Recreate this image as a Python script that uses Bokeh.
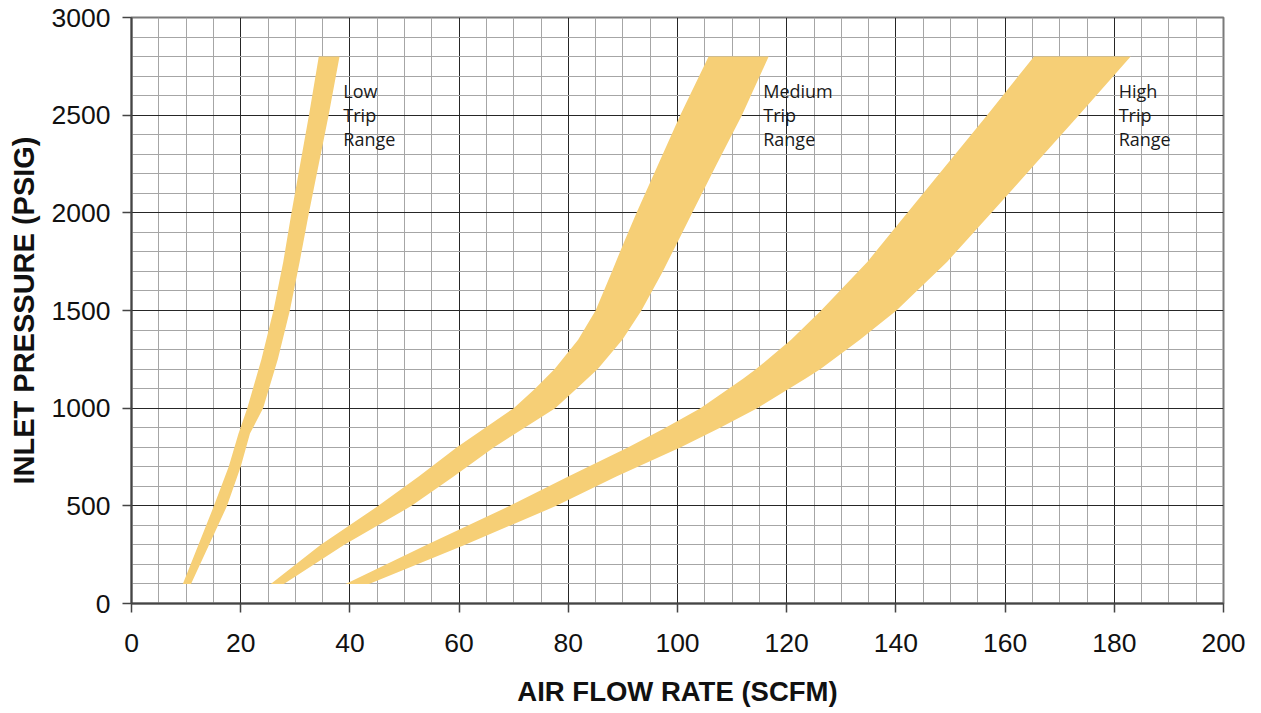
from bokeh.plotting import figure
from bokeh.models import SingleIntervalTicker, Range1d
from bokeh.embed import file_html
from bokeh.resources import INLINE
from bokeh.core.properties import value

# ---- data ----
low_y = [100, 500, 700, 870, 1000, 1250, 1500, 1750, 2000, 2500, 2800]
low_left = [9.4, 15.1, 17.8, 19.6, 21.2, 23.8, 26.0, 27.8, 29.3, 32.5, 34.3]
low_right = [10.9, 17.5, 20.0, 21.7, 24.1, 26.8, 29.0, 30.8, 32.5, 36.1, 38.1]

med_y = [100, 300, 500, 650, 800, 1000, 1100, 1200, 1350, 1500, 1700, 1850, 2000, 2250, 2500, 2800]
med_left = [25.5, 34.6, 45.2, 52.6, 59.6, 70.0, 73.9, 77.5, 81.8, 85.0, 88.0, 90.2, 92.5, 96.5, 100.5, 105.7]
med_right = [27.9, 38.9, 51.3, 59.0, 66.4, 77.6, 81.5, 85.4, 89.9, 93.4, 97.3, 100.0, 102.7, 107.2, 111.8, 116.7]

high_y = [100, 300, 500, 650, 800, 900, 1000, 1150, 1200, 1350, 1500, 1750, 2000, 2250, 2500, 2800]
high_left = [39.2, 54.0, 69.3, 80.0, 91.0, 97.8, 104.2, 112.0, 114.4, 120.8, 126.3, 134.8, 142.1, 149.4, 156.7, 165.3]
high_right = [43.5, 61.0, 77.8, 88.8, 100.6, 107.8, 114.6, 123.4, 126.2, 133.4, 140.1, 149.4, 157.5, 165.5, 173.5, 183.0]

band_labels = ["Low\nTrip\nRange", "Medium\nTrip\nRange", "High\nTrip\nRange"]
label_x = [38.8, 115.7, 180.8]
label_y = [2500, 2500, 2500]

x_title = "AIR FLOW RATE (SCFM)"
y_title = "INLET PRESSURE (PSIG)"

BAND = "#F6CF76"

p = figure(width=1253, height=710, output_backend="svg", toolbar_location=None,
           x_range=Range1d(0, 200), y_range=Range1d(0, 3000),
           min_border_left=131, min_border_right=30, min_border_top=17, min_border_bottom=107)

for ys, xl, xr in [(low_y, low_left, low_right), (med_y, med_left, med_right), (high_y, high_left, high_right)]:
    p.harea(y=ys, x1=xl, x2=xr, fill_color=BAND, fill_alpha=1.0)

p.text(x=label_x, y=label_y, text=band_labels, text_font=value("Open Sans"),
       text_font_size="18px", text_color="#1a1a1a", text_baseline="middle",
       text_align="left", text_line_height=1.0)

xt = SingleIntervalTicker(interval=20, num_minor_ticks=4)
yt = SingleIntervalTicker(interval=500, num_minor_ticks=5)
p.xaxis.ticker = xt
p.yaxis.ticker = yt
p.xgrid.ticker = xt
p.ygrid.ticker = yt

for g in (p.xgrid, p.ygrid):
    g.grid_line_color = "#262626"
    g.grid_line_width = 1
    g.minor_grid_line_color = "#a6a6a6"
    g.minor_grid_line_width = 1

p.outline_line_color = "#7a7a7a"
p.outline_line_width = 2

for ax in (p.xaxis, p.yaxis):
    ax.axis_line_color = "#444444"
    ax.axis_line_width = 2
    ax.major_tick_line_color = "#444444"
    ax.major_tick_line_width = 1.5
    ax.major_tick_out = 9
    ax.major_tick_in = 0
    ax.minor_tick_line_color = None
    ax.major_label_text_font = "Liberation Sans"
    ax.major_label_text_font_size = "26.5px"
    ax.major_label_text_color = "#111111"
    ax.axis_label_text_font = "Liberation Sans"
    ax.axis_label_text_font_style = "bold"
    ax.axis_label_text_color = "#111111"

p.xaxis.axis_label_text_font_size = "27.5px"
p.yaxis.axis_label_text_font_size = "29px"
p.xaxis.axis_label = x_title
p.yaxis.axis_label = y_title
p.xaxis.major_label_standoff = 21
p.yaxis.major_label_standoff = 12
p.xaxis.axis_label_standoff = 21
p.yaxis.axis_label_standoff = 9

open("out.html", "w").write(file_html(p, INLINE))
